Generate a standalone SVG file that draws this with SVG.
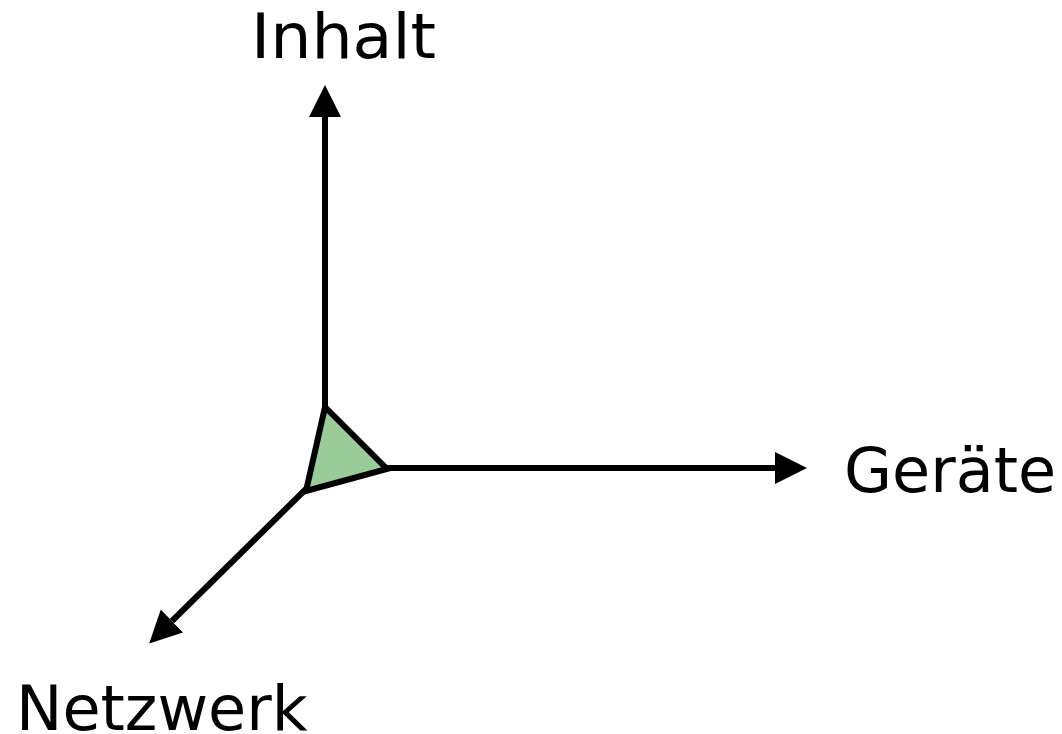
<svg xmlns="http://www.w3.org/2000/svg" width="1062" height="734" viewBox="0 0 1062 734">
<style>
.ax{stroke:#000;stroke-width:6;fill:none}
.lbl{font-family:"DejaVu Sans","Verdana",sans-serif;font-size:62px;fill:#000}
</style>
<defs>
<marker id="ah" viewBox="0 0 10 10" refX="0" refY="5" markerUnits="userSpaceOnUse" markerWidth="32" markerHeight="32" orient="auto">
<path d="M0,0 L10,5 L0,10 Z" fill="#000"/>
</marker>
</defs>
<rect width="1062" height="734" fill="#fff"/>
<g id="connectors">
<line class="ax" x1="325" y1="408" x2="325" y2="117" marker-end="url(#ah)"/>
<line class="ax" x1="387" y1="468" x2="775" y2="468" marker-end="url(#ah)"/>
<line class="ax" x1="306" y1="489" x2="172" y2="621" marker-end="url(#ah)"/>
</g>
<g id="origin">
<polygon points="325,407 387,469 306,491" fill="#99cc99" stroke="#000" stroke-width="6" stroke-linejoin="miter"/>
</g>
<g id="label-inhalt"><text class="lbl" x="251" y="58" textLength="185" lengthAdjust="spacingAndGlyphs">Inhalt</text></g>
<g id="label-geraete"><text class="lbl" x="844" y="492">Geräte</text></g>
<g id="label-netzwerk"><text class="lbl" x="16" y="730">Netzwerk</text></g>
</svg>
